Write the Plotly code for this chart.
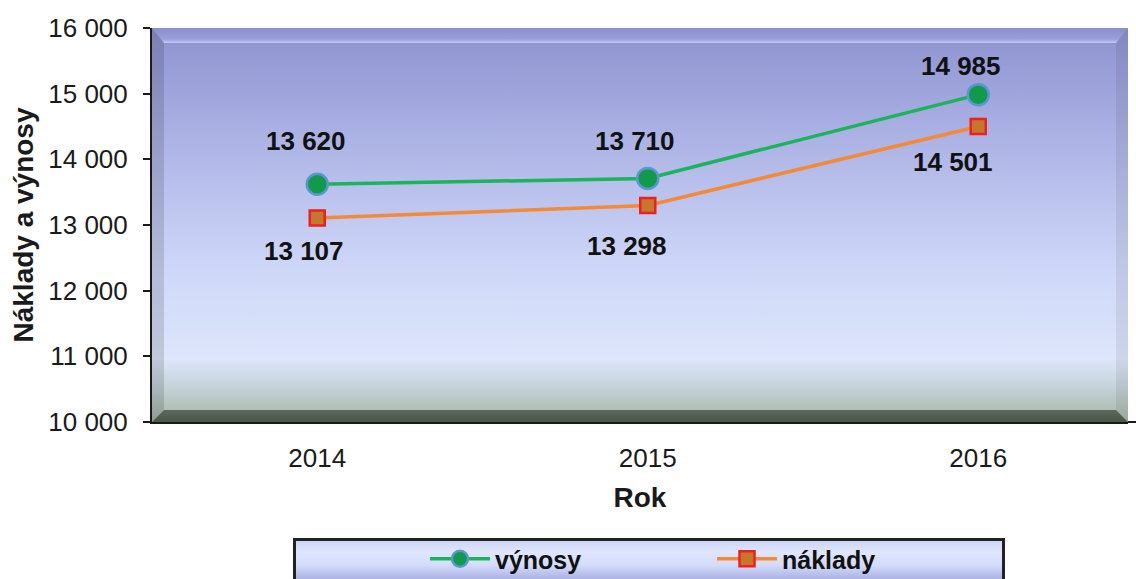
import base64
import plotly.graph_objects as go

# ---- data ----
years = ["2014", "2015", "2016"]
vynosy = [13620, 13710, 14985]
naklady = [13107, 13298, 14501]
series_names = ["výnosy", "náklady"]
y_title = "Náklady a výnosy"
x_title = "Rok"

# ---- style ----
FONT = "Arial, 'Liberation Sans', sans-serif"
W, H = 1136, 579
ML, MR, MT, MB = 152, 8, 28, 157
PW, PH = W - ML - MR, H - MT - MB

# label offsets (pixels) for the data labels
v_dx = [-11, -13, -17]
v_dy = [43, 37, 29]
n_dx = [-13, -21, -25]
n_dy = [-33, -41, -36]

xpos = list(range(len(years)))


def svg_uri(svg):
    return "data:image/svg+xml;base64," + base64.b64encode(svg.encode("utf-8")).decode()


plot_bg = f"""<svg xmlns='http://www.w3.org/2000/svg' width='{PW}' height='{PH}' viewBox='0 0 {PW} {PH}' preserveAspectRatio='none'>
<defs>
<linearGradient id='g' x1='0' y1='0' x2='0' y2='1'>
<stop offset='0' stop-color='#8d92cf'/>
<stop offset='0.3' stop-color='#aeb5e6'/>
<stop offset='0.6' stop-color='#cdd6f7'/>
<stop offset='0.84' stop-color='#dde6fb'/>
<stop offset='0.9' stop-color='#c9d6df'/>
<stop offset='0.96' stop-color='#b3c3bb'/>
<stop offset='1' stop-color='#a4b4aa'/>
</linearGradient>
<linearGradient id='b' x1='0' y1='0' x2='0' y2='1'>
<stop offset='0' stop-color='#5d675b'/>
<stop offset='1' stop-color='#4c5549'/>
</linearGradient>
<linearGradient id='t' x1='0' y1='0' x2='0' y2='1'>
<stop offset='0' stop-color='#8a8fcc'/>
<stop offset='0.75' stop-color='#9aa0da'/>
<stop offset='1' stop-color='#c3c8fb'/>
</linearGradient>
</defs>
<rect width='{PW}' height='{PH}' fill='url(#g)'/>
<polygon points='0,0 {PW},0 {PW-12},15 12,15' fill='url(#t)'/>
<polygon points='0,0 12,15 12,{PH-12} 0,{PH}' fill='#000' fill-opacity='0.13'/>
<polygon points='{PW},0 {PW-12},15 {PW-12},{PH-12} {PW},{PH}' fill='#000' fill-opacity='0.07'/>
<polygon points='0,{PH} 12,{PH-12} {PW-12},{PH-12} {PW},{PH}' fill='url(#b)'/>
</svg>"""

LEG_W, LEG_H = 712, 52
legend_bg = f"""<svg xmlns='http://www.w3.org/2000/svg' width='{LEG_W}' height='{LEG_H}' viewBox='0 0 {LEG_W} {LEG_H}' preserveAspectRatio='none'>
<defs>
<linearGradient id='lg' x1='0' y1='0' x2='0' y2='1'>
<stop offset='0' stop-color='#cbd4f6'/>
<stop offset='0.25' stop-color='#dfe6fd'/>
<stop offset='0.5' stop-color='#d3dbfa'/>
<stop offset='0.8' stop-color='#a5abdf'/>
<stop offset='1' stop-color='#9ca2d9'/>
</linearGradient>
</defs>
<rect x='1.5' y='1.5' width='{LEG_W-3}' height='{LEG_H}' fill='url(#lg)' stroke='#222' stroke-width='3'/>
</svg>"""

fig = go.Figure()

fig.add_trace(go.Scatter(
    x=xpos, y=vynosy, name=series_names[0], mode="lines+markers",
    line=dict(color="#1db35c", width=3.5),
    marker=dict(symbol="circle", size=21, color="#129a4b",
                line=dict(color="#5a96cf", width=2.5)),
))
fig.add_trace(go.Scatter(
    x=xpos, y=naklady, name=series_names[1], mode="lines+markers",
    line=dict(color="#f28a38", width=3.5),
    marker=dict(symbol="square", size=15, color="#c5782c",
                line=dict(color="#ee1f1f", width=2.5)),
))


def fmt(v):
    return f"{v:,}".replace(",", " ")


LABEL_FONT = dict(family=FONT, size=26, color="#111")
annotations = []
for i in xpos:
    annotations.append(dict(x=i, y=vynosy[i], text="<b>" + fmt(vynosy[i]) + "</b>", showarrow=False,
                            xshift=v_dx[i], yshift=v_dy[i], font=LABEL_FONT, xref="x", yref="y"))
    annotations.append(dict(x=i, y=naklady[i], text="<b>" + fmt(naklady[i]) + "</b>", showarrow=False,
                            xshift=n_dx[i], yshift=n_dy[i], font=LABEL_FONT, xref="x", yref="y"))

fig.update_layout(
    width=W, height=H,
    margin=dict(l=ML, r=MR, t=MT, b=MB, pad=0, autoexpand=False),
    paper_bgcolor="white",
    plot_bgcolor="rgba(0,0,0,0)",
    separators=", ",
    font=dict(family=FONT, color="#1a1a1a"),
    annotations=annotations,
    shapes=[dict(type="line", xref="paper", yref="paper", x0=1, x1=1 + MR / PW, y0=0, y1=0,
                 line=dict(color="#1a1a1a", width=2))],
    images=[
        dict(source=svg_uri(plot_bg), xref="paper", yref="paper", x=0, y=1,
             sizex=1, sizey=1, sizing="stretch", xanchor="left", yanchor="top", layer="below"),
        dict(source=svg_uri(legend_bg), xref="paper", yref="paper",
             x=(293 - ML) / PW, y=(MT + PH - 538) / PH,
             sizex=LEG_W / PW, sizey=LEG_H / PH, sizing="stretch",
             xanchor="left", yanchor="top", layer="below"),
    ],
    showlegend=True,
    legend=dict(
        orientation="h", x=(425 - ML) / PW, xanchor="left",
        y=(MT + PH - 559) / PH, yanchor="middle",
        bgcolor="rgba(0,0,0,0)", borderwidth=0,
        font=dict(family=FONT, size=25, color="#111", weight="bold"),
        entrywidth=212, itemwidth=60,
    ),
    xaxis=dict(
        range=[-0.5, -0.5 + PW / 330.5], showgrid=False, zeroline=False,
        tickvals=xpos, ticktext=years,
        showline=True, linecolor="#1a1a1a", linewidth=2, ticks="",
        tickfont=dict(family=FONT, size=26, color="#1a1a1a"),
        ticklabelstandoff=12,
        title=dict(text="<b>" + x_title + "</b>", font=dict(family=FONT, size=28, color="#1a1a1a"),
                   standoff=15),
    ),
    yaxis=dict(
        range=[10000, 16000], dtick=1000, tick0=10000, tickformat=",d",
        showgrid=False, zeroline=False,
        showline=True, linecolor="#1a1a1a", linewidth=2,
        ticks="outside", ticklen=7, tickwidth=1.5, tickcolor="#1a1a1a",
        tickfont=dict(family=FONT, size=26, color="#1a1a1a"),
        ticklabelstandoff=10,
        title=dict(text="<b>" + y_title + "</b>", font=dict(family=FONT, size=28, color="#1a1a1a"),
                   standoff=6),
    ),
)

fig.write_html(
    "out.html",
    config={"displayModeBar": False},
    post_script="document.body.style.margin='0';document.body.style.overflow='hidden';",
)
